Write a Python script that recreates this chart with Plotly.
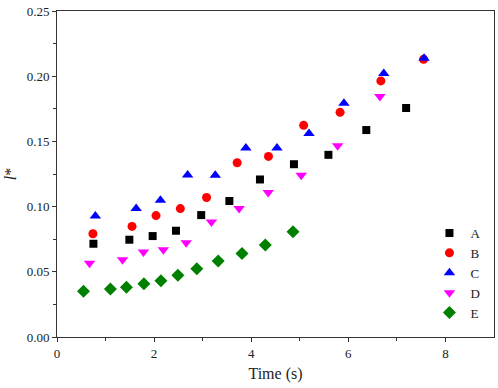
import plotly.graph_objects as go

# Data
a_x = [0.75, 1.49, 1.97, 2.45, 2.97, 3.55, 4.18, 4.88, 5.59, 6.37, 7.19]
a_y = [0.0715, 0.0746, 0.0774, 0.0815, 0.0935, 0.1043, 0.1208, 0.1325, 0.1397, 0.1587, 0.1756]

b_x = [0.74, 1.545, 2.04, 2.54, 3.08, 3.71, 4.355, 5.08, 5.83, 6.67, 7.55]
b_y = [0.0792, 0.0848, 0.0931, 0.0985, 0.107, 0.1336, 0.1385, 0.1623, 0.1723, 0.1964, 0.213]

c_x = [0.79, 1.63, 2.13, 2.69, 3.26, 3.89, 4.53, 5.19, 5.91, 6.73, 7.56]
c_y = [0.0928, 0.0985, 0.1048, 0.1243, 0.124, 0.145, 0.145, 0.156, 0.1792, 0.2020, 0.2138]

d_x = [0.67, 1.35, 1.78, 2.19, 2.66, 3.18, 3.75, 4.35, 5.03, 5.78, 6.65]
d_y = [0.0566, 0.0592, 0.0651, 0.0669, 0.0723, 0.0882, 0.0985, 0.1108, 0.124, 0.1466, 0.1845]

e_x = [0.546, 1.10, 1.43, 1.79, 2.14, 2.49, 2.88, 3.32, 3.81, 4.29, 4.86]
e_y = [0.0351, 0.0369, 0.0382, 0.0408, 0.0431, 0.0474, 0.0523, 0.0582, 0.0641, 0.0705, 0.0808]

series = [
    ("A", a_x, a_y, "square", "#000000", 8),
    ("B", b_x, b_y, "circle", "#FF0000", 9),
    ("C", c_x, c_y, "triangle-up", "#0000FF", 10),
    ("D", d_x, d_y, "triangle-down", "#FF00FF", 10),
    ("E", e_x, e_y, "diamond", "#008000", 10),
]

FONT = "Times New Roman, Liberation Serif, DejaVu Serif, serif"

fig = go.Figure()
for name, xs, ys, sym, col, sz in series:
    fig.add_trace(go.Scatter(
        x=xs, y=ys, mode="markers", name=name,
        marker=dict(symbol=sym, color=col, size=sz, line=dict(width=0)),
    ))

axis_common = dict(
    showline=True, linecolor="#333333", linewidth=1, mirror=True,
    ticks="outside", ticklen=4, tickcolor="#333333", tickwidth=1,
    showgrid=False, zeroline=False, automargin=False,
    tickfont=dict(family=FONT, size=13, color="#222222"),
)

fig.update_xaxes(
    range=[0, 9], tickvals=[0, 2, 4, 6, 8],
    minor=dict(tickvals=[1, 3, 5, 7], ticks="outside", ticklen=3, tickcolor="#333333"),
    title=dict(text="Time (s)", font=dict(family=FONT, size=16, color="#222222"), standoff=8),
    **axis_common,
)
fig.update_yaxes(
    range=[0, 0.25], tickvals=[0, 0.05, 0.10, 0.15, 0.20, 0.25],
    ticktext=["0.00", "0.05", "0.10", "0.15", "0.20", "0.25"],
    minor=dict(tickvals=[0.025, 0.075, 0.125, 0.175, 0.225], ticks="outside", ticklen=3, tickcolor="#333333"),
    title=dict(text="<i>l</i>*", font=dict(family=FONT, size=16, color="#222222"), standoff=6),
    **axis_common,
)

fig.update_layout(
    width=498, height=388,
    margin=dict(l=57, r=4, t=11, b=51),
    plot_bgcolor="white", paper_bgcolor="white",
    font=dict(family=FONT),
    showlegend=True,
    legend=dict(
        x=0.85, y=0.365, xanchor="left", yanchor="top",
        bgcolor="rgba(0,0,0,0)", borderwidth=0,
        font=dict(family=FONT, size=13, color="#222222"),
        tracegroupgap=0, itemwidth=32,
    ),
)

fig.write_html(
    "out.html",
    config={"displayModeBar": False},
    post_script="document.body.style.margin='0';document.body.style.padding='0';",
)
